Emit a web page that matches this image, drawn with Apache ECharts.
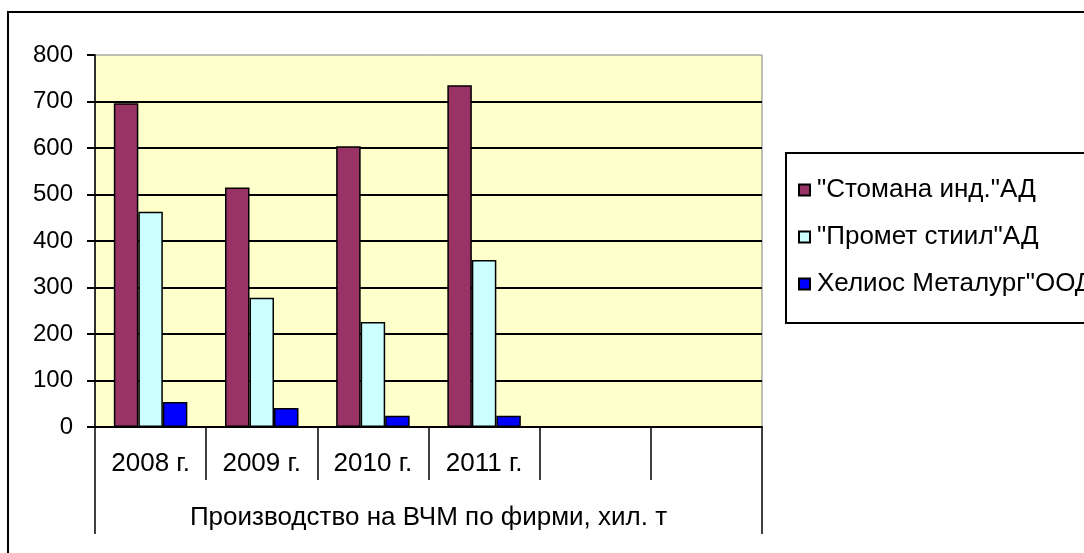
<!DOCTYPE html>
<html>
<head>
<meta charset="utf-8">
<script src="https://cdn.jsdelivr.net/npm/echarts@6/dist/echarts.min.js"></script>
<style>
  html, body { margin: 0; padding: 0; background: #fff; }
  #chart { width: 1084px; height: 553px; }
</style>
</head>
<body>
<div id="chart"></div>
<script>
// Данни, прочетени от графиката
var categories = ['2008 г.', '2009 г.', '2010 г.', '2011 г.', '', ''];
var groupLabel = ['Производство на ВЧМ по фирми, хил. т'];
var seriesNames = ['"Стомана инд."АД', '"Промет стиил"АД', 'Хелиос Металург"ООД'];
var stomana = [696, 515, 604, 735];
var promet = [463, 278, 226, 359];
var helios = [54, 41, 24, 24];
var yTicks = [0, 100, 200, 300, 400, 500, 600, 700, 800];

var FONT = '"Liberation Sans", Arial, sans-serif';
var FS = 24;
var FS_WIDE = 26;

var chartDom = document.getElementById('chart');
var myChart = echarts.init(chartDom);

function barSeries(name, data, color) {
    return {
        name: name,
        type: 'bar',
        data: data,
        barWidth: 24.5,
        barGap: '0%',
        itemStyle: { color: color, borderColor: '#000', borderWidth: 1.5 },
        emphasis: { disabled: true }
    };
}

var option = {
    animation: false,
    textStyle: { fontFamily: FONT },
    grid: {
        left: 95, top: 55, right: 322, bottom: 126,
        show: true,
        backgroundColor: '#FFFFCC',
        borderColor: '#808080',
        borderWidth: 1
    },
    graphic: [{
        type: 'rect',
        shape: { x: 8, y: 12, width: 1200, height: 700 },
        style: { fill: 'none', stroke: '#000', lineWidth: 2 },
        silent: true
    }],
    legend: {
        orient: 'vertical',
        left: 786,
        top: 153,
        padding: [24, 60, 26, 12],
        itemGap: 21,
        itemWidth: 11,
        itemHeight: 11,
        borderColor: '#000',
        borderWidth: 2,
        icon: 'rect',
        textStyle: { fontSize: FS_WIDE, color: '#000', fontFamily: FONT, padding: [0, 0, 0, 2] },
        data: seriesNames
    },
    xAxis: [{
        type: 'category',
        data: categories,
        axisLine: { show: true, lineStyle: { color: '#000', width: 2 } },
        axisTick: { show: true, length: 53, lineStyle: { color: '#000', width: 1.5 } },
        axisLabel: { margin: 24, fontSize: FS_WIDE, color: '#000', fontFamily: FONT },
        splitLine: { show: false }
    }, {
        type: 'category',
        position: 'bottom',
        data: groupLabel,
        axisLine: { show: false },
        axisTick: { show: true, length: 107, lineStyle: { color: '#000', width: 1.5 } },
        axisLabel: { margin: 78, fontSize: FS_WIDE, color: '#000', fontFamily: FONT },
        splitLine: { show: false }
    }],
    yAxis: {
        type: 'value',
        min: yTicks[0],
        max: yTicks[yTicks.length - 1],
        interval: 100,
        axisLine: { show: true, lineStyle: { color: '#000', width: 1.5 } },
        axisTick: { show: true, length: 8, lineStyle: { color: '#000', width: 2 } },
        axisLabel: { margin: 22, fontSize: FS, color: '#000', fontFamily: FONT },
        splitLine: { show: true, showMaxLine: false, lineStyle: { color: '#000', width: 2 } }
    },
    series: [
        barSeries(seriesNames[0], stomana, '#993366'),
        barSeries(seriesNames[1], promet, '#CCFFFF'),
        barSeries(seriesNames[2], helios, '#0000FF')
    ]
};

option && myChart.setOption(option);

window.addEventListener('resize', function() {
    myChart.resize();
});
</script>
</body>
</html>
